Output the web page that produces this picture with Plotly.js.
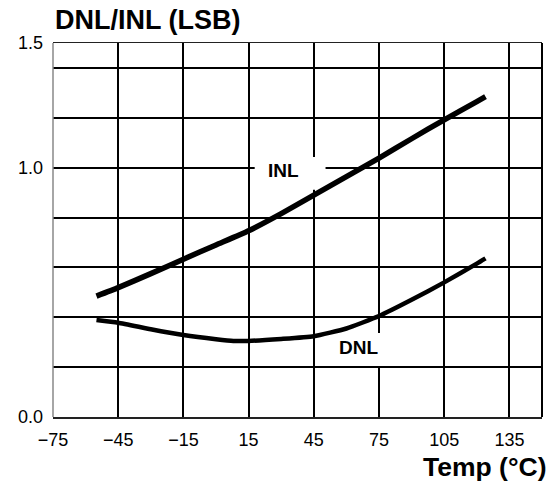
<!DOCTYPE html>
<html>
<head>
<meta charset="utf-8">
<script src="https://cdn.plot.ly/plotly-3.0.1.min.js"></script>
<style>
  html, body { margin: 0; padding: 0; background: #fff; }
  #chart { width: 555px; height: 489px; }
</style>
</head>
<body>
<div id="chart"></div>
<script>
// ---- data ----
const inlTemp = [-55, -45, -30, -15, 0, 15, 30, 45, 60, 75, 90, 105, 120, 124];
const inlVal  = [0.485, 0.519, 0.575, 0.633, 0.69, 0.747, 0.816, 0.89, 0.964, 1.038, 1.116, 1.192, 1.265, 1.285];

const dnlTemp = [-55, -45, -30, -15, 0, 8, 15, 30, 45, 60, 75, 90, 105, 120, 124];
const dnlVal  = [0.389, 0.378, 0.352, 0.329, 0.312, 0.305, 0.305, 0.313, 0.324, 0.355, 0.405, 0.47, 0.54, 0.615, 0.636];

const xTickVals = [-75, -45, -15, 15, 45, 75, 105, 135];
const xTickText = ["\u221275", "\u221245", "\u221215", "15", "45", "75", "105", "135"];
const yTickVals = [0, 0.2, 0.4, 0.6, 0.8, 1.0, 1.2, 1.4, 1.5];
const yTickText = ["0.0", "", "", "", "", "1.0", "", "", "1.5"];

const FONT = "Liberation Sans, Arial, Helvetica, sans-serif";

const traces = [
  { x: inlTemp, y: inlVal, mode: "lines", name: "INL",
    line: { color: "#000", width: 5.5, shape: "spline", smoothing: 0.5 }, hoverinfo: "skip" },
  { x: dnlTemp, y: dnlVal, mode: "lines", name: "DNL",
    line: { color: "#000", width: 4.5, shape: "spline", smoothing: 0.5 }, hoverinfo: "skip" }
];

const layout = {
  width: 555, height: 489,
  margin: { l: 53, r: 13, t: 43, b: 72 },
  paper_bgcolor: "#fff", plot_bgcolor: "#fff",
  showlegend: false,
  font: { family: FONT, color: "#000", size: 18 },
  title: {
    text: "<b>DNL/INL (LSB)</b>",
    font: { family: FONT, size: 27, color: "#000" },
    xref: "container", yref: "container",
    x: 55 / 555, xanchor: "left",
    y: 1 - 20 / 489, yanchor: "middle"
  },
  xaxis: {
    range: [-75, 150], tickmode: "array", tickvals: xTickVals, ticktext: xTickText,
    showgrid: true, gridcolor: "#000", gridwidth: 2,
    zeroline: false, showline: true, mirror: true, linecolor: "#222", linewidth: 1.5,
    ticks: "", ticklabelstandoff: 6,
    tickfont: { family: FONT, size: 18, color: "#000" }, fixedrange: true
  },
  yaxis: {
    range: [0, 1.5], tickmode: "array", tickvals: yTickVals, ticktext: yTickText,
    showgrid: true, gridcolor: "#000", gridwidth: 2,
    zeroline: false, showline: false,
    ticks: "", ticklabelstandoff: 9,
    tickfont: { family: FONT, size: 18, color: "#000" }, fixedrange: true
  },
  shapes: [
    { type: "rect", xref: "x", yref: "y", x0: 17.8, x1: 50.4, y0: 0.911, y1: 1.043,
      fillcolor: "#fff", line: { width: 0 }, layer: "between" },
    { type: "rect", xref: "x", yref: "y", x0: 52.5, x1: 80, y0: 0.205, y1: 0.337,
      fillcolor: "#fff", line: { width: 0 }, layer: "between" },
    { type: "line", xref: "paper", yref: "paper", x0: 0, x1: 0, y0: 0, y1: 1,
      line: { color: "#888", width: 1.5 }, layer: "above" },
    { type: "line", xref: "paper", yref: "paper", x0: 1, x1: 1, y0: 0, y1: 1,
      line: { color: "#000", width: 2 }, layer: "above" }
  ],
  annotations: [
    { text: "<b>INL</b>", xref: "x", yref: "y", x: 31, y: 0.99, showarrow: false,
      font: { family: FONT, size: 19, color: "#000" }, xanchor: "center", yanchor: "middle" },
    { text: "<b>DNL</b>", xref: "x", yref: "y", x: 65.6, y: 0.277, showarrow: false,
      font: { family: FONT, size: 19, color: "#000" }, xanchor: "center", yanchor: "middle" },
    { text: "<b>Temp (°C)</b>", xref: "paper", yref: "paper",
      x: (548 - 53) / (542 - 53), y: (417 - 467) / 374, xanchor: "right", yanchor: "middle",
      showarrow: false, font: { family: FONT, size: 26.5, color: "#000" } }
  ]
};

Plotly.newPlot("chart", traces, layout, { staticPlot: true, displayModeBar: false });
</script>
</body>
</html>
